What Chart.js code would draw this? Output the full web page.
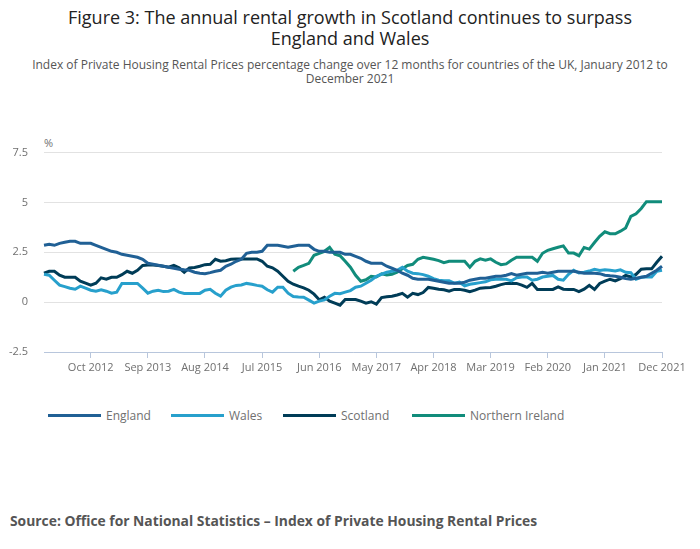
<!DOCTYPE html>
<html>
<head>
<meta charset="utf-8">
<script src="https://cdn.jsdelivr.net/npm/chart.js@4"></script>
<style>
  html, body { margin: 0; padding: 0; background: #fff; }
  body { width: 700px; height: 549px; position: relative; overflow: hidden; font-family: "Open Sans", sans-serif; }
  #title { position: absolute; top: 7px; left: 0; width: 700px; text-align: center; font-size: 18px; line-height: 21px; color: #222; }
  #subtitle { position: absolute; top: 58px; left: 10px; width: 680px; text-align: center; font-size: 12px; line-height: 14px; color: #555; }
  #pct { position: absolute; top: 135px; left: 44px; font-size: 11px; color: #707070; }
  #wrap { position: absolute; top: 130px; left: 0; width: 700px; height: 248px; }
  #legend { position: absolute; top: 406px; left: 0; width: 700px; height: 20px; font-size: 12px; color: #707070; }
  .li { position: absolute; top: 0; height: 20px; line-height: 20px; white-space: nowrap; }
  .li span.ln { position: absolute; left: 0; top: 8px; width: 53px; height: 3px; }
  .li span.tx { position: absolute; left: 58px; top: 0; }
  #source { position: absolute; top: 511px; left: 10px; font-size: 13.85px; font-weight: bold; color: #555; }
</style>
</head>
<body>
<div id="title">Figure 3: The annual rental growth in Scotland continues to surpass<br>England and Wales</div>
<div id="subtitle">Index of Private Housing Rental Prices percentage change over 12 months for countries of the UK, January 2012 to<br>December 2021</div>
<div id="pct">%</div>
<div id="wrap"><canvas id="c"></canvas></div>
<div id="legend"></div>
<div id="source">Source: Office for National Statistics – Index of Private Housing Rental Prices</div>
<script>
const monthNames = ["Jan","Feb","Mar","Apr","May","Jun","Jul","Aug","Sep","Oct","Nov","Dec"];
const years = [2012,2013,2014,2015,2016,2017,2018,2019,2020,2021];
const categories = [];
years.forEach(y => monthNames.forEach(m => categories.push(m + " " + y)));

const yTicks = [-2.5, 0, 2.5, 5, 7.5];
const seriesNames = ["England", "Wales", "Scotland", "Northern Ireland"];
const seriesColors = ["#206095", "#27a0cc", "#003c57", "#118c7b"];

const england = [
  2.85,2.9,2.85,2.95,3.0,3.05,3.05,2.95,2.95,2.95,2.85,2.75,
  2.65,2.55,2.5,2.4,2.35,2.3,2.25,2.15,1.95,1.9,1.85,1.8,
  1.75,1.7,1.65,1.62,1.6,1.5,1.45,1.43,1.48,1.55,1.6,1.8,
  1.9,2.05,2.15,2.45,2.5,2.5,2.55,2.85,2.85,2.85,2.8,2.75,
  2.8,2.85,2.85,2.85,2.65,2.55,2.55,2.5,2.5,2.5,2.4,2.4,
  2.3,2.2,2.05,1.95,1.95,1.95,1.8,1.7,1.6,1.45,1.35,1.2,
  1.15,1.15,1.15,1.1,1.05,1.0,0.95,0.95,0.95,1.0,1.1,1.15,
  1.2,1.2,1.25,1.3,1.3,1.35,1.43,1.35,1.4,1.45,1.45,1.45,
  1.5,1.45,1.5,1.55,1.55,1.55,1.55,1.5,1.45,1.45,1.45,1.43,
  1.35,1.32,1.3,1.25,1.18,1.15,1.2,1.25,1.3,1.45,1.6,1.8
];
const wales = [
  1.4,1.35,1.1,0.85,0.78,0.7,0.65,0.8,0.7,0.6,0.55,0.62,
  0.55,0.45,0.5,0.94,0.94,0.94,0.94,0.7,0.45,0.55,0.6,0.53,
  0.55,0.64,0.5,0.44,0.44,0.44,0.44,0.6,0.64,0.45,0.3,0.6,
  0.75,0.84,0.86,0.94,0.9,0.84,0.8,0.62,0.5,0.75,0.75,0.45,
  0.28,0.26,0.25,0.1,-0.05,0.05,0.11,0.3,0.44,0.42,0.5,0.58,
  0.75,0.8,0.95,1.1,1.3,1.4,1.5,1.55,1.6,1.75,1.55,1.45,
  1.43,1.38,1.3,1.18,1.1,1.07,1.07,0.95,1.0,0.82,0.9,0.94,
  0.98,1.02,1.12,1.15,1.15,1.15,1.07,1.22,1.26,1.26,1.1,1.15,
  1.26,1.3,1.34,1.15,1.1,1.4,1.6,1.46,1.5,1.56,1.65,1.59,
  1.62,1.6,1.56,1.62,1.5,1.48,1.15,1.25,1.26,1.26,1.55,1.6
];
const scotland = [
  1.45,1.55,1.55,1.35,1.25,1.25,1.25,1.05,0.95,0.85,0.95,1.22,
  1.15,1.25,1.25,1.38,1.55,1.45,1.6,1.84,1.86,1.86,1.84,1.8,
  1.75,1.84,1.72,1.5,1.72,1.74,1.8,1.88,1.9,2.15,2.05,2.08,
  2.15,2.17,2.17,2.17,2.17,2.17,2.05,1.8,1.72,1.55,1.3,1.05,
  0.9,0.8,0.72,0.6,0.4,0.12,0.25,0.05,-0.05,-0.15,0.13,0.13,
  0.13,0.05,-0.05,0.02,-0.1,0.23,0.27,0.3,0.36,0.44,0.25,0.44,
  0.38,0.48,0.74,0.7,0.65,0.62,0.55,0.64,0.64,0.6,0.53,0.6,
  0.7,0.72,0.74,0.8,0.88,0.94,0.94,0.94,0.85,0.74,0.94,0.64,
  0.64,0.64,0.64,0.77,0.65,0.64,0.64,0.53,0.65,0.84,0.64,0.94,
  1.05,1.15,1.07,1.18,1.34,1.26,1.39,1.65,1.67,1.67,2.0,2.3
];
const northernIreland = [
  null,null,null,null,null,null,null,null,null,null,null,null,
  null,null,null,null,null,null,null,null,null,null,null,null,
  null,null,null,null,null,null,null,null,null,null,null,null,
  null,null,null,null,null,null,null,null,null,null,null,null,
  1.55,1.75,1.84,1.95,2.35,2.45,2.55,2.75,2.4,2.33,2.05,1.75,
  1.35,1.05,1.12,1.3,1.26,1.42,1.36,1.4,1.5,1.67,1.84,1.9,
  2.15,2.25,2.2,2.15,2.08,1.98,2.05,2.05,2.05,2.05,1.75,2.05,
  2.17,2.1,2.17,2.0,1.88,1.92,2.1,2.25,2.25,2.25,2.25,2.05,
  2.45,2.6,2.68,2.75,2.82,2.46,2.46,2.33,2.74,2.66,2.99,3.3,
  3.53,3.43,3.43,3.56,3.72,4.3,4.43,4.7,5.04,5.04,5.04,5.04
];
const seriesValues = [england, wales, scotland, northernIreland];
const xTickEvery = 11;
const xTickOffset = 9;

const datasets = seriesNames.map((name, i) => ({
  label: name,
  data: seriesValues[i],
  borderColor: seriesColors[i],
  backgroundColor: seriesColors[i],
  borderWidth: 3,
  pointRadius: 0,
  pointHoverRadius: 0,
  tension: 0,
  spanGaps: false,
  fill: false
}));

// HTML legend built from the series arrays
const legendPos = [48, 171, 283, 412];
const legendEl = document.getElementById('legend');
seriesNames.forEach((name, i) => {
  const d = document.createElement('div');
  d.className = 'li';
  d.style.left = legendPos[i] + 'px';
  d.innerHTML = '<span class="ln" style="background:' + seriesColors[i] + '"></span><span class="tx">' + name + '</span>';
  legendEl.appendChild(d);
});

new Chart(document.getElementById('c'), {
  type: 'line',
  data: { labels: categories, datasets: datasets },
  options: {
    responsive: true,
    maintainAspectRatio: false,
    animation: false,
    layout: { padding: { top: 20, right: 38, left: 0, bottom: 0 } },
    plugins: { legend: { display: false }, tooltip: { enabled: false }, title: { display: false } },
    scales: {
      x: {
        type: 'category',
        offset: false,
        border: { display: true, color: '#b8c6dc', width: 1 },
        grid: { display: true, drawOnChartArea: false, drawTicks: true, tickLength: 6, color: '#b8c6dc' },
        ticks: {
          autoSkip: false, maxRotation: 0, minRotation: 0, padding: 3,
          color: '#707070', font: { family: 'Open Sans', size: 11 },
          callback: function(val, idx) {
            return ((idx - xTickOffset) % xTickEvery === 0 && idx >= xTickOffset) ? categories[idx] : null;
          }
        },
        afterFit: s => { s.height = 26; }
      },
      y: {
        min: yTicks[0], max: yTicks[yTicks.length - 1],
        afterBuildTicks: s => { s.ticks = yTicks.map(v => ({ value: v })); },
        border: { display: false },
        grid: { color: '#e2e2e2', drawTicks: false, lineWidth: 1 },
        ticks: { padding: 16, color: '#707070', font: { family: 'Open Sans', size: 11 }, callback: v => String(v) },
        afterFit: s => { s.width = 44; }
      }
    }
  }
});
</script>
</body>
</html>
